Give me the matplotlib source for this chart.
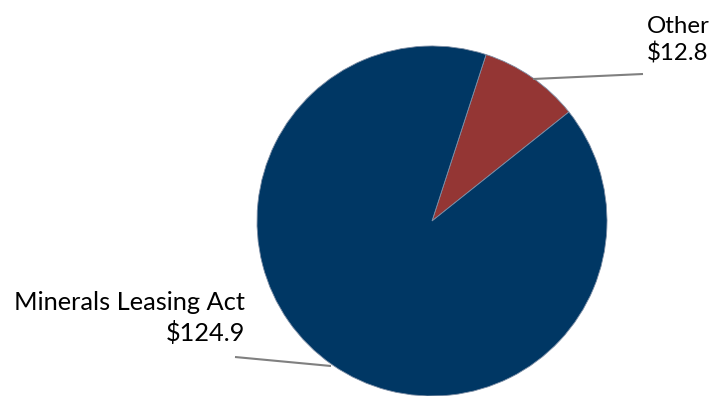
import matplotlib
matplotlib.use("Agg")
import matplotlib.pyplot as plt

labels = ["Other", "Minerals Leasing Act"]
values = [12.8, 124.9]
colors = ["#943634", "#003764"]

W, H = 711, 396
fig = plt.figure(figsize=(W / 100, H / 100), dpi=100)
ax = fig.add_axes([0, 0, 1, 1])

cx, cy, r = 432, H - 221, 175
ax.pie(values, colors=colors, startangle=72, counterclock=False,
       center=(cx, cy), radius=r, frame=False,
       wedgeprops=dict(linewidth=0.6, edgecolor="#7f8fa6"))
ax.set_xlim(0, W)
ax.set_ylim(0, H)
ax.set_aspect("equal")
ax.axis("off")

font = dict(family="Lato", color="black", linespacing=1.3)
# leader lines
ax.plot([533, 643], [H - 79, H - 74], color="#808080", lw=1.5, solid_capstyle="butt")
ax.plot([331, 235], [H - 366, H - 357], color="#808080", lw=1.5, solid_capstyle="butt")

ax.text(647, H - 40, f"{labels[0]}\n${values[0]:.1f}", ha="left", va="center",
        fontsize=17.3, **font)
ax.text(245, H - 318, f"{labels[1]}\n${values[1]:.1f}", ha="right", va="center",
        multialignment="right", fontsize=18.3, **font)

fig.savefig("out.png", dpi=100)
